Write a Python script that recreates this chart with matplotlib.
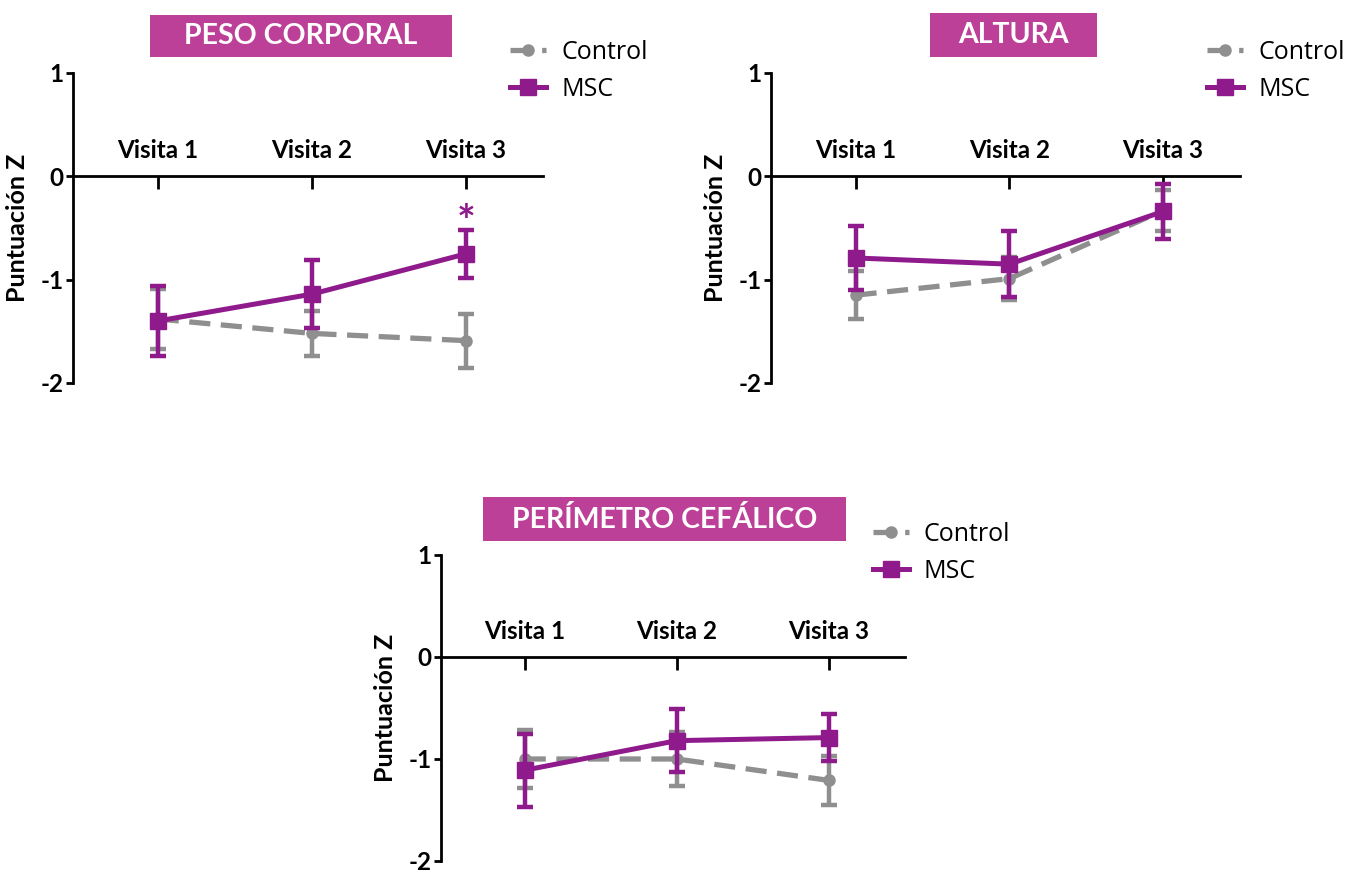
import matplotlib
matplotlib.use("Agg")
import matplotlib.pyplot as plt
from matplotlib.patches import Rectangle
from matplotlib.lines import Line2D

# ---------------- data ----------------
visits = ["Visita 1", "Visita 2", "Visita 3"]
titles = ["PESO CORPORAL", "ALTURA", "PERÍMETRO CEFÁLICO"]
series = ["Control", "MSC"]

peso_control = [-1.38, -1.52, -1.59]
peso_control_err = [0.29, 0.22, 0.26]
peso_msc = [-1.40, -1.14, -0.75]
peso_msc_err = [0.34, 0.33, 0.23]

altura_control = [-1.15, -0.99, -0.33]
altura_control_err = [0.23, 0.21, 0.20]
altura_msc = [-0.79, -0.85, -0.34]
altura_msc_err = [0.31, 0.32, 0.27]

pc_control = [-1.00, -1.00, -1.21]
pc_control_err = [0.28, 0.26, 0.24]
pc_msc = [-1.11, -0.82, -0.79]
pc_msc_err = [0.36, 0.31, 0.23]

yticks = [1, 0, -1, -2]
ytick_labels = ["1", "0", "-1", "-2"]

# ---------------- style ----------------
GRAY = "#8f8f8f"
PURPLE = "#8e1a8c"
BOX = "#bc3f98"
BOLD_FONT = ["Lato", "DejaVu Sans"]
LEG_FONT = ["Open Sans", "DejaVu Sans"]
CTRL_DASH = (0, (4, 2))

W, H = 1347, 873
fig = plt.figure(figsize=(W / 100, H / 100), dpi=100)


def px_axes(left, right, top, bottom):
    return [left / W, 1 - bottom / H, (right - left) / W, (bottom - top) / H]


def title_box(x0, x1, y0, y1, text):
    fig.add_artist(Rectangle((x0 / W, 1 - y1 / H), (x1 - x0) / W, (y1 - y0) / H,
                             transform=fig.transFigure, facecolor=BOX,
                             edgecolor="none"))
    fig.text((x0 + x1) / 2 / W, 1 - (y0 + y1) / 2 / H, text, color="white",
             fontsize=20.5, fontweight="bold", family=BOLD_FONT,
             ha="center", va="center")


def panel(rect, ctrl, ctrl_err, msc, msc_err, star=None):
    ax = fig.add_axes(rect)
    x = [1, 2, 3]
    ax.errorbar(x, ctrl, yerr=ctrl_err, color=GRAY, linestyle=CTRL_DASH,
                linewidth=3.8, marker="o", markersize=8, capsize=6,
                capthick=3.2, elinewidth=3.2, zorder=2)
    ax.errorbar(x, msc, yerr=msc_err, color=PURPLE, linestyle="-",
                linewidth=3.6, marker="s", markersize=11, capsize=6,
                capthick=3.2, elinewidth=3.2, zorder=3)
    if star is not None:
        ax.text(3, star, "*", color=PURPLE, fontsize=32, fontweight="bold",
                ha="center", va="center", family=BOLD_FONT)
    ax.set_xlim(0.45, 3.5)
    ax.set_ylim(-2, 1)
    ax.spines["right"].set_visible(False)
    ax.spines["bottom"].set_visible(False)
    ax.spines["top"].set_position(("data", 0))
    ax.spines["top"].set_linewidth(2)
    ax.spines["left"].set_linewidth(2)
    ax.xaxis.set_ticks_position("top")
    ax.set_xticks(x)
    ax.set_xticklabels(visits, fontsize=17.5, fontweight="bold", family=BOLD_FONT)
    ax.tick_params(axis="x", direction="in", length=9, width=2, pad=10)
    ax.set_yticks(yticks)
    ax.set_yticklabels(ytick_labels, fontsize=17.5, fontweight="bold",
                       family=BOLD_FONT)
    ax.tick_params(axis="y", direction="out", length=5, width=2, pad=2)
    ax.set_ylabel("Puntuación Z", fontsize=18, fontweight="bold",
                  family=BOLD_FONT, labelpad=8)
    handles = [
        Line2D([], [], color=GRAY, linestyle=CTRL_DASH, linewidth=3.8,
               marker="o", markersize=8),
        Line2D([], [], color=PURPLE, linestyle="-", linewidth=3.6,
               marker="s", markersize=11),
    ]
    ax.legend(handles, series, loc="upper left", bbox_to_anchor=(0.93, 1.108),
              frameon=False, prop={"family": LEG_FONT, "size": 18},
              handlelength=1.45, handletextpad=0.6, labelspacing=0.48,
              borderpad=0, borderaxespad=0)
    return ax


panel(px_axes(73, 543, 73, 383), peso_control, peso_control_err,
      peso_msc, peso_msc_err, star=-0.45)
panel(px_axes(771, 1240, 73, 383), altura_control, altura_control_err,
      altura_msc, altura_msc_err)
panel(px_axes(441, 905, 555, 861), pc_control, pc_control_err,
      pc_msc, pc_msc_err)

title_box(150, 452, 15, 57, titles[0])
title_box(930, 1097, 13, 57, titles[1])
title_box(483, 846, 497, 541, titles[2])

fig.savefig("out.png", dpi=100)
